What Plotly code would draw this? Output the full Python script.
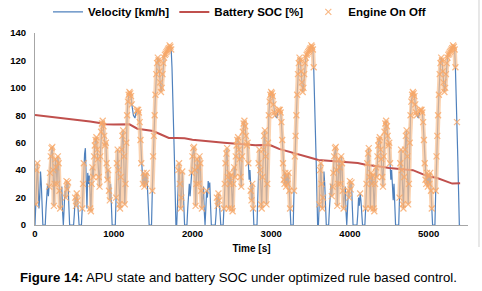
import plotly.graph_objects as go

# ---------------- data ----------------
TIME_STEP_S = 10
# one drive cycle (0..1790 s, 10 s steps), velocity in km/h; the test repeats it 3 times
velocity_cycle_kmh = [
    0, 15, 40, 45, 30, 12, 20, 39, 30, 8,          # 0-90
    0, 0, 0, 0, 12, 28, 30, 21, 28, 38,            # 100-190
    50, 56, 57, 40, 14, 30, 48, 42, 30, 50,        # 200-290
    45, 25, 12, 20, 28, 10, 0, 12, 25, 20,         # 300-390
    32, 26, 31, 14, 0, 0, 0, 0, 0, 0,              # 400-490
    8, 20, 14, 23, 18, 10, 0, 0, 0, 0,             # 500-590
    12, 30, 45, 52, 56, 35, 12, 38, 30, 36,        # 600-690
    12, 10, 30, 42, 35, 50, 58, 62, 64, 55,        # 700-790
    48, 35, 28, 50, 68, 74, 76, 72, 65, 58,        # 800-890
    60, 45, 33, 40, 25, 18, 30, 12, 0, 0,          # 900-990
    0, 0, 0, 20, 45, 55, 40, 15, 12, 35,           # 1000-1090
    55, 65, 69, 50, 15, 30, 60, 80, 90, 95,        # 1100-1190
    97, 96, 94, 88, 82, 80, 79, 78, 81, 83,        # 1200-1290
    84, 84, 82, 75, 62, 45, 33, 30, 38, 28,        # 1300-1390
    36, 30, 38, 25, 12, 0, 0, 0, 0, 25,            # 1400-1490
    50, 65, 80, 95, 110, 118, 122, 120, 112, 104,  # 1500-1590
    97, 100, 110, 118, 122, 124, 125, 126, 127, 128,  # 1600-1690
    129, 131, 130, 128, 115, 98, 75, 50, 25, 0,    # 1700-1790
]
N_CYCLES = 3
velocity_kmh = velocity_cycle_kmh * N_CYCLES + [0]
time_s = [i * TIME_STEP_S for i in range(len(velocity_kmh))]

soc_time_s = list(range(0, 5401, 100))
soc_pct = [
    80.2, 79.6, 78.8, 78.0, 77.3, 76.8, 76.2, 75.5, 74.5, 73.5,
    73.3, 73.2, 73.4, 70.2, 69.2, 68.5, 66.0, 63.5, 63.5, 63.2,
    62.2, 61.5, 61.0, 60.5, 60.0, 59.5, 59.0, 58.5, 58.2, 58.4,
    58.0, 55.5, 54.0, 52.5, 51.0, 49.0, 47.4, 47.0, 46.6, 46.2,
    45.8, 45.2, 44.0, 43.0, 42.4, 41.6, 41.0, 40.8, 40.0, 37.6,
    35.3, 34.5, 32.5, 30.2, 30.4,
]

# periods (s) during which the engine (APU) is on
engine_on_intervals_s = [
    (10, 30), (180, 320), (390, 425), (510, 545), (575, 625), (700, 950),
    (1030, 1230), (1290, 1350), (1370, 1420), (1480, 1735),
    (1820, 1870), (1990, 2120), (2175, 2185), (2305, 2345), (2375, 2710),
    (2735, 2770), (2835, 3050), (3090, 3260), (3280, 3540),
    (3610, 3660), (3770, 3920), (3980, 4020), (4125, 4135), (4175, 4510),
    (4630, 4850), (4890, 5040), (5080, 5340), (5360, 5360),
]

engine_t, engine_v = [], []          # marker points (engine on, vehicle moving)
band_t, band_v = [], []              # same points, broken between separate on-periods
prev_idx = None
for idx, (t, v) in enumerate(zip(time_s, velocity_kmh)):
    if v > 0 and any(a <= t <= b for a, b in engine_on_intervals_s):
        engine_t.append(t)
        engine_v.append(v)
        if prev_idx is not None and idx != prev_idx + 1:
            band_t.append(None)
            band_v.append(None)
        band_t.append(t)
        band_v.append(v)
        prev_idx = idx

x_ticks = [0, 1000, 2000, 3000, 4000, 5000]
y_ticks = [0, 20, 40, 60, 80, 100, 120, 140]

# ---------------- figure ----------------
FONT = "Liberation Sans, Arial, sans-serif"
ORANGE = "#F7A868"
fig = go.Figure()
fig.add_trace(go.Scatter(x=time_s, y=velocity_kmh, mode="lines", name="Velocity [km/h]",
                         line=dict(color="#4F81BD", width=1.2)))
fig.add_trace(go.Scatter(x=soc_time_s, y=soc_pct, mode="lines", name="Battery SOC [%]",
                         line=dict(color="#C0504D", width=2)))
fig.add_trace(go.Scatter(x=band_t, y=band_v, mode="lines", showlegend=False,
                         hoverinfo="skip", line=dict(color="rgba(250,192,144,0.7)", width=4.5)))
fig.add_trace(go.Scatter(x=engine_t, y=engine_v, mode="markers", name="Engine On Off",
                         marker=dict(symbol="x-thin-open", size=6, color=ORANGE, opacity=0.8,
                                     line=dict(color=ORANGE, width=1.2))))

fig.update_layout(
    width=482, height=291,
    margin=dict(l=35, r=14, t=33, b=66, autoexpand=False),
    paper_bgcolor="white", plot_bgcolor="white",
    font=dict(family=FONT, size=10, color="black"),
    showlegend=True,
    legend=dict(orientation="h", x=0.03, y=1.11, xanchor="left", yanchor="middle",
                font=dict(family=FONT, size=11.5, color="black", weight="bold"),
                bgcolor="rgba(0,0,0,0)", itemwidth=30, traceorder="normal"),
    annotations=[dict(
        text="<b>Figure 14:</b> APU state and battery SOC under optimized rule based control.",
        xref="paper", yref="paper", x=0.471, y=-0.271, xanchor="center", yanchor="middle",
        showarrow=False, font=dict(family=FONT, size=13.2, color="black"))],
    shapes=[dict(type="line", xref="paper", yref="paper", x0=1.0254, x1=1.0254,
                 y0=-0.1146, y1=1.172, line=dict(color="#D0D0D0", width=1))],
)
fig.update_xaxes(range=[0, 5500], tickvals=x_ticks, showline=True, linecolor="#A6A6A6",
                 linewidth=1, showgrid=False, zeroline=False, ticks="", automargin=False,
                 tickfont=dict(family=FONT, size=9.5, weight="bold"),
                 title=dict(text="Time [s]", font=dict(family=FONT, size=10, weight="bold"),
                            standoff=6))
fig.update_yaxes(range=[0, 140], tickvals=y_ticks, showline=True, linecolor="#A6A6A6",
                 linewidth=1, showgrid=False, zeroline=False, ticks="", automargin=False,
                 ticklabelstandoff=6,
                 tickfont=dict(family=FONT, size=9.5, weight="bold"))

# remove the browser's default 8px page margin so the figure sits at the window's corner
fig.write_html("out.html",
               config={"displayModeBar": False},
               post_script="document.body.style.margin='0px';document.body.style.overflow='hidden';")
